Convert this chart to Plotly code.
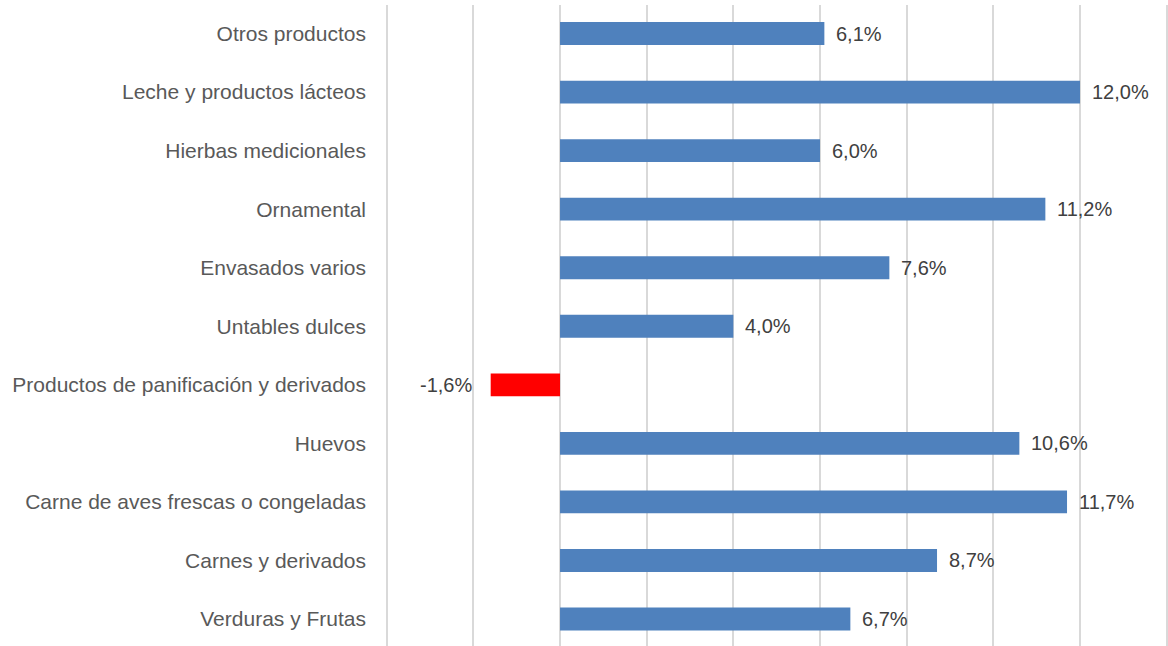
import plotly.graph_objects as go

# categories listed bottom to top, as plotted
categories = [
    "Verduras y Frutas",
    "Carnes y derivados",
    "Carne de aves frescas o congeladas",
    "Huevos",
    "Productos de panificación y derivados",
    "Untables dulces",
    "Envasados varios",
    "Ornamental",
    "Hierbas medicionales",
    "Leche y productos lácteos",
    "Otros productos",
]
values = [6.7, 8.7, 11.7, 10.6, -1.6, 4.0, 7.6, 11.2, 6.0, 12.0, 6.1]
labels = ["6,7%", "8,7%", "11,7%", "10,6%", "-1,6%", "4,0%", "7,6%",
          "11,2%", "6,0%", "12,0%", "6,1%"]

colors = ["#FF0000" if v < 0 else "#4F81BD" for v in values]

fig = go.Figure(
    go.Bar(
        x=values,
        y=categories,
        orientation="h",
        marker=dict(color=colors, line=dict(width=0)),
        width=0.39,
        hoverinfo="skip",
    )
)

# value labels next to bar ends
for cat, v, lab in zip(categories, values, labels):
    fig.add_annotation(
        x=v,
        y=cat,
        text=lab,
        showarrow=False,
        xanchor="left" if v >= 0 else "right",
        xshift=10 if v >= 0 else -17,
        font=dict(size=20, color="#404040"),
    )

fig.update_layout(
    width=1168,
    height=646,
    margin=dict(l=384, r=0, t=5, b=0, pad=0),
    paper_bgcolor="white",
    plot_bgcolor="white",
    font=dict(family="Liberation Sans, Arial, sans-serif"),
    showlegend=False,
)
fig.update_xaxes(
    range=[-4.062, 14.03],
    dtick=2,
    tick0=0,
    showticklabels=False,
    showgrid=True,
    gridcolor="#D9D9D9",
    gridwidth=2,
    zeroline=True,
    zerolinecolor="#D9D9D9",
    zerolinewidth=2,
    showline=False,
    automargin=False,
)
fig.update_yaxes(
    type="category",
    range=[-0.461, 10.487],
    showgrid=False,
    ticklabelstandoff=17,
    tickfont=dict(size=21, color="#595959"),
    showline=False,
    zeroline=False,
    automargin=False,
)

# drop the default body margin so the figure fills the window exactly
fig.write_html(
    "out.html",
    config={"displayModeBar": False},
    post_script="document.body.style.margin = '0';",
)
